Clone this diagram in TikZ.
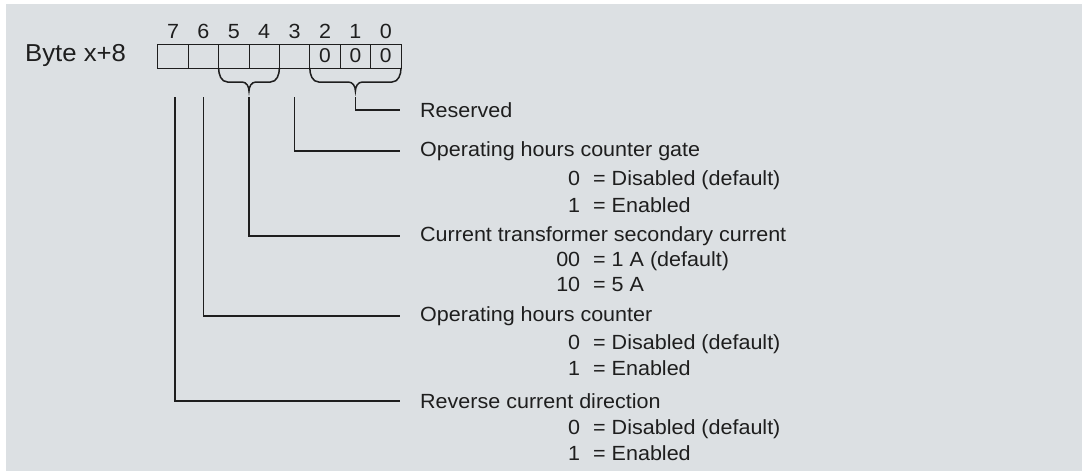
\documentclass[tikz,border=0pt]{standalone}
\usepackage{fontspec}
\setmainfont[FakeStretch=1.05]{Liberation Sans}
\usepackage{xcolor}
\usetikzlibrary{positioning}

\definecolor{panel}{HTML}{DCE0E3}
\definecolor{ink}{HTML}{1E1E1E}

\newcommand{\val}[2]{\makebox[24pt][r]{#1}\hspace{13pt}= #2}

\begin{document}
\begin{tikzpicture}[
  x=1pt, y=-1pt,
  every node/.style={text=ink},
  cell/.style={draw=ink, line width=1pt, minimum width=30.4pt, minimum height=24pt, inner sep=0pt, outer sep=0pt, font=\fontsize{20}{22}\selectfont},
  bitnum/.style={inner sep=0pt, font=\fontsize{20.5}{22}\selectfont},
  lbl/.style={anchor=west, inner sep=0pt, font=\fontsize{20.5}{24}\selectfont},
  conn/.style={draw=ink, line width=1.6pt},
  brace/.style={draw=ink, line width=1.5pt}
]
\useasboundingbox (0,0) rectangle (1087,474);
\fill[white] (0,0) rectangle (1087,474);
\fill[panel] (6,4) rectangle (1082,471);

% byte register
\node[inner sep=0pt, anchor=west, font=\fontsize{24.5}{28}\selectfont] (byte) at (25,55) {Byte x+8};
\node[cell] (b7) at (173,56) {};
\node[cell, right=0pt of b7] (b6) {};
\node[cell, right=0pt of b6] (b5) {};
\node[cell, right=0pt of b5] (b4) {};
\node[cell, right=0pt of b4] (b3) {};
\node[cell, right=0pt of b3] (b2) {0};
\node[cell, right=0pt of b2] (b1) {0};
\node[cell, right=0pt of b1] (b0) {0};

\node[bitnum, above=5pt of b7] (n7) {7};
\node[bitnum, above=5pt of b6] (n6) {6};
\node[bitnum, above=5pt of b5] (n5) {5};
\node[bitnum, above=5pt of b4] (n4) {4};
\node[bitnum, above=5pt of b3] (n3) {3};
\node[bitnum, above=5pt of b2] (n2) {2};
\node[bitnum, above=5pt of b1] (n1) {1};
\node[bitnum, above=5pt of b0] (n0) {0};

% braces
\coordinate (t54) at (b5.south east |- 0,91);
\coordinate (t20) at (b1.south |- 0,91);
\draw[brace] (b5.south west) to[out=-90,in=180] ([xshift=9pt]b5.south west |- 0,82)
  -- ([xshift=-7pt]t54 |- 0,82) to[out=0,in=90] (t54)
  to[out=90,in=180] ([xshift=7pt]t54 |- 0,82) -- ([xshift=-9pt]b4.south east |- 0,82)
  to[out=0,in=-90] (b4.south east);
\draw[brace] (b2.south west) to[out=-90,in=180] ([xshift=9pt]b2.south west |- 0,82)
  -- ([xshift=-7pt]t20 |- 0,82) to[out=0,in=90] (t20)
  to[out=90,in=180] ([xshift=7pt]t20 |- 0,82) -- ([xshift=-9pt]b0.south east |- 0,82)
  to[out=0,in=-90] (b0.south east);

% descriptions
\node[lbl] (res) at (420,110) {Reserved};
\node[lbl] (gate) at (420,151) {Operating hours counter gate};
\node[lbl] (gate0) at (556,180) {\val{0}{Disabled (default)}};
\node[lbl] (gate1) at (556,205) {\val{1}{Enabled}};
\node[lbl] (ct) at (420,236) {Current transformer secondary current};
\node[lbl] (ct0) at (556,261) {\val{00}{1 A (default)}};
\node[lbl] (ct1) at (556,284) {\val{10}{5 A}};
\node[lbl] (ohc) at (420,316) {Operating hours counter};
\node[lbl] (ohc0) at (556,344) {\val{0}{Disabled (default)}};
\node[lbl] (ohc1) at (556,368) {\val{1}{Enabled}};
\node[lbl] (rev) at (420,401) {Reverse current direction};
\node[lbl] (rev0) at (556,429) {\val{0}{Disabled (default)}};
\node[lbl] (rev1) at (556,453) {\val{1}{Enabled}};

% connectors
\draw[conn, shorten <=6pt, shorten >=20pt] (t20) |- (res.west);
\draw[conn, shorten <=29pt, shorten >=20pt] (b3.south) |- (gate.west);
\draw[conn, shorten <=6pt, shorten >=20pt] (t54) |- (ct.west);
\draw[conn, shorten <=29pt, shorten >=20pt] (b6.south) |- (ohc.west);
\draw[conn, shorten <=29pt, shorten >=20pt] ([xshift=2pt]b7.south) |- (rev.west);
\end{tikzpicture}
\end{document}
